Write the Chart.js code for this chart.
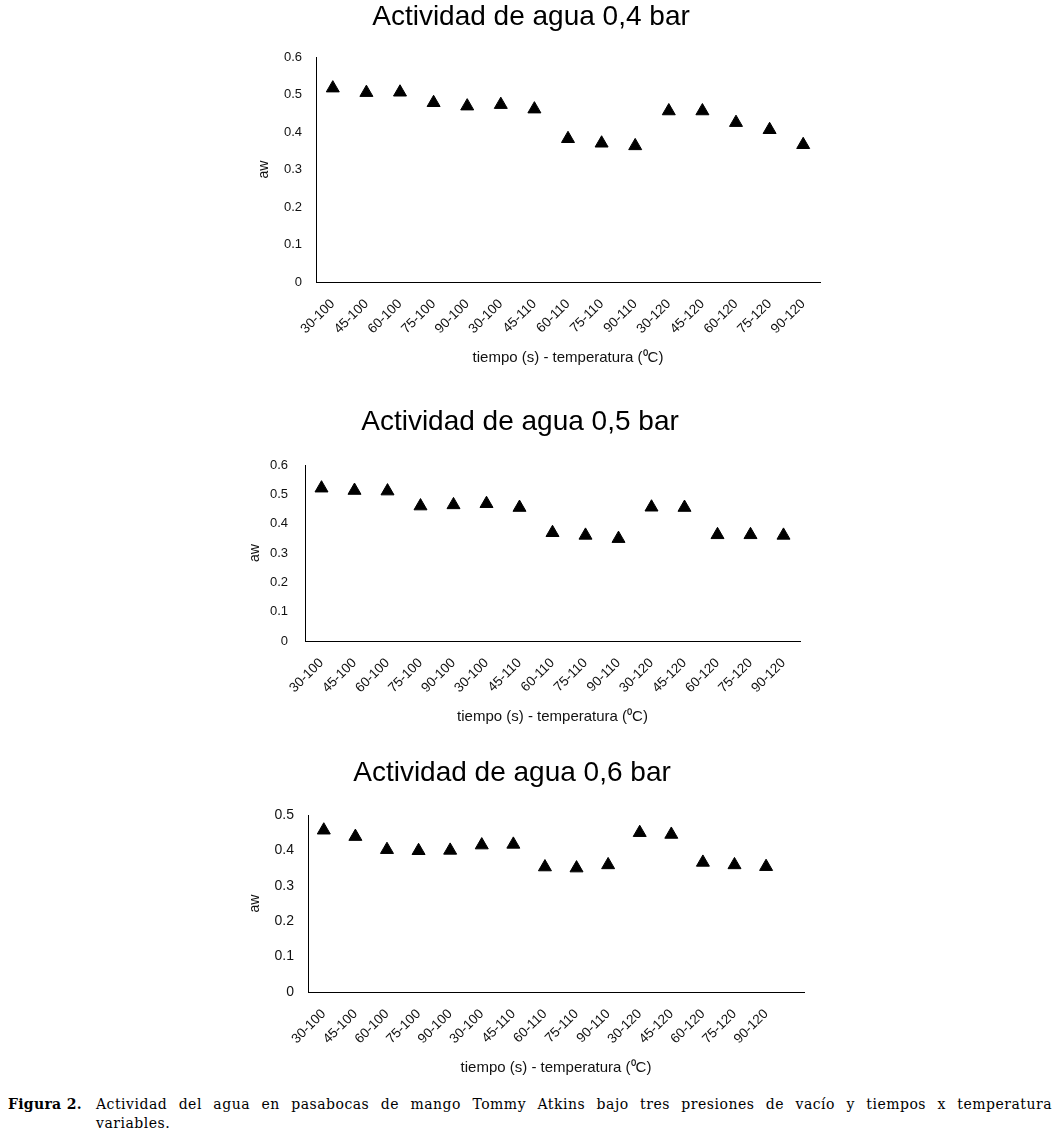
<!DOCTYPE html>
<html>
<head>
<meta charset="utf-8">
<script src="https://cdn.jsdelivr.net/npm/chart.js@4.4.1/dist/chart.umd.min.js"></script>
<style>
  body { margin: 0; background: #fff; width: 1060px; height: 1138px; position: relative; overflow: hidden; }
  .box { position: absolute; left: 0; width: 1060px; }
  #caption { position: absolute; left: 8px; top: 1095px; width: 1044px; font-family: 'DejaVu Serif', serif; font-size: 14px; color: #000; line-height: 19px; }
  #caption .lbl { position: absolute; left: 0; top: 0; font-weight: bold; letter-spacing: 0.3px; }
  #caption .txt { margin-left: 88px; letter-spacing: 0.5px; }
  #caption .l1 { text-align: justify; text-align-last: justify; white-space: nowrap; }
</style>
</head>
<body>
<div class="box" style="top:0;height:380px"><canvas id="c1"></canvas></div>
<div class="box" style="top:390px;height:340px"><canvas id="c2"></canvas></div>
<div class="box" style="top:745px;height:337px"><canvas id="c3"></canvas></div>
<div id="caption">
  <span class="lbl">Figura 2.</span>
  <div class="txt l1">Actividad del agua en pasabocas de mango Tommy Atkins bajo tres presiones de vacío y tiempos x temperatura</div>
  <div class="txt">variables.</div>
</div>
<script>
// tiempo (s) - temperatura (C)
const labels = ['30-100', '45-100', '60-100', '75-100', '90-100', '30-100', '45-110', '60-110',
                '75-110', '90-110', '30-120', '45-120', '60-120', '75-120', '90-120'];

// aw a 0,4 bar
const aw04 = [0.517, 0.505, 0.506, 0.478, 0.469, 0.473, 0.461, 0.382, 0.370, 0.363, 0.456, 0.456, 0.425, 0.406, 0.366];
// aw a 0,5 bar
const aw05 = [0.521, 0.513, 0.511, 0.460, 0.464, 0.468, 0.455, 0.369, 0.360, 0.349, 0.456, 0.455, 0.362, 0.362, 0.360];
// aw a 0,6 bar
const aw06 = [0.457, 0.439, 0.402, 0.399, 0.400, 0.415, 0.417, 0.353, 0.350, 0.359, 0.450, 0.445, 0.366, 0.359, 0.354];

const yMax04 = 0.6, yMax05 = 0.6, yMax06 = 0.5;

const FONT = "'Liberation Sans', Arial, sans-serif";

function makeChart(id, title, values, yMax, s) {
  new Chart(document.getElementById(id), {
    type: 'scatter',
    data: {
      datasets: [{
        data: values.map((v, i) => ({x: i, y: v})),
        pointStyle: 'triangle',
        pointRadius: s.r,
        pointHoverRadius: s.r,
        backgroundColor: '#000',
        borderColor: '#000',
        borderWidth: 1
      }]
    },
    options: {
      responsive: true,
      maintainAspectRatio: false,
      animation: false,
      layout: { padding: { left: s.pl, right: s.pr, top: 0, bottom: 0 } },
      plugins: {
        legend: { display: false },
        tooltip: { enabled: false },
        title: {
          display: true,
          text: title,
          color: '#000',
          font: { family: FONT, size: 28, weight: 'normal' },
          padding: { top: s.tt, bottom: s.tb }
        }
      },
      scales: {
        x: {
          type: 'linear',
          min: -0.5,
          max: s.xMax,
          grid: { display: false },
          border: { display: true, color: '#000', width: 1 },
          afterBuildTicks: sc => { sc.ticks = labels.map((l, i) => ({value: i})); },
          afterFit: sc => { sc.height = s.xh; },
          ticks: {
            autoSkip: false,
            minRotation: 45,
            maxRotation: 45,
            padding: 6,
            color: '#111',
            font: { family: FONT, size: 13.5 },
            callback: v => labels[v]
          },
          title: {
            display: true,
            text: 'tiempo (s) - temperatura (⁰C)',
            color: '#111',
            font: { family: FONT, size: 15 },
            padding: { top: 0, bottom: s.xtb }
          }
        },
        y: {
          min: 0,
          max: yMax,
          grid: { display: false, drawTicks: false },
          border: { display: true, color: '#000', width: 1 },
          afterFit: sc => { sc.width = s.yw; },
          ticks: {
            stepSize: 0.1,
            padding: s.yp,
            color: '#111',
            font: { family: FONT, size: s.yf }
          },
          title: {
            display: true,
            text: 'aw',
            color: '#111',
            font: { family: FONT, size: 14 },
            padding: { top: s.ytp, bottom: 0 }
          }
        }
      }
    }
  });
}

makeChart('c1', 'Actividad de agua 0,4 bar', aw04, yMax04,
  { r: 7.5, pl: 242, pr: 240, tt: 0.2, tb: 23.2, xMax: 14.5, xh: 98, xtb: 13, yw: 74, yp: 14, yf: 13, ytp: 14 });
makeChart('c2', 'Actividad de agua 0,5 bar', aw05, yMax05,
  { r: 7.5, pl: 240, pr: 260, tt: 15.2, tb: 26.2, xMax: 14.5, xh: 89, xtb: 4, yw: 65, yp: 17, yf: 13, ytp: 6.5 });
makeChart('c3', 'Actividad de agua 0,6 bar', aw06, yMax06,
  { r: 7.5, pl: 220, pr: 256, tt: 11.2, tb: 25.2, xMax: 15.2, xh: 90, xtb: 5, yw: 88, yp: 14, yf: 14, ytp: 27 });
</script>
</body>
</html>
